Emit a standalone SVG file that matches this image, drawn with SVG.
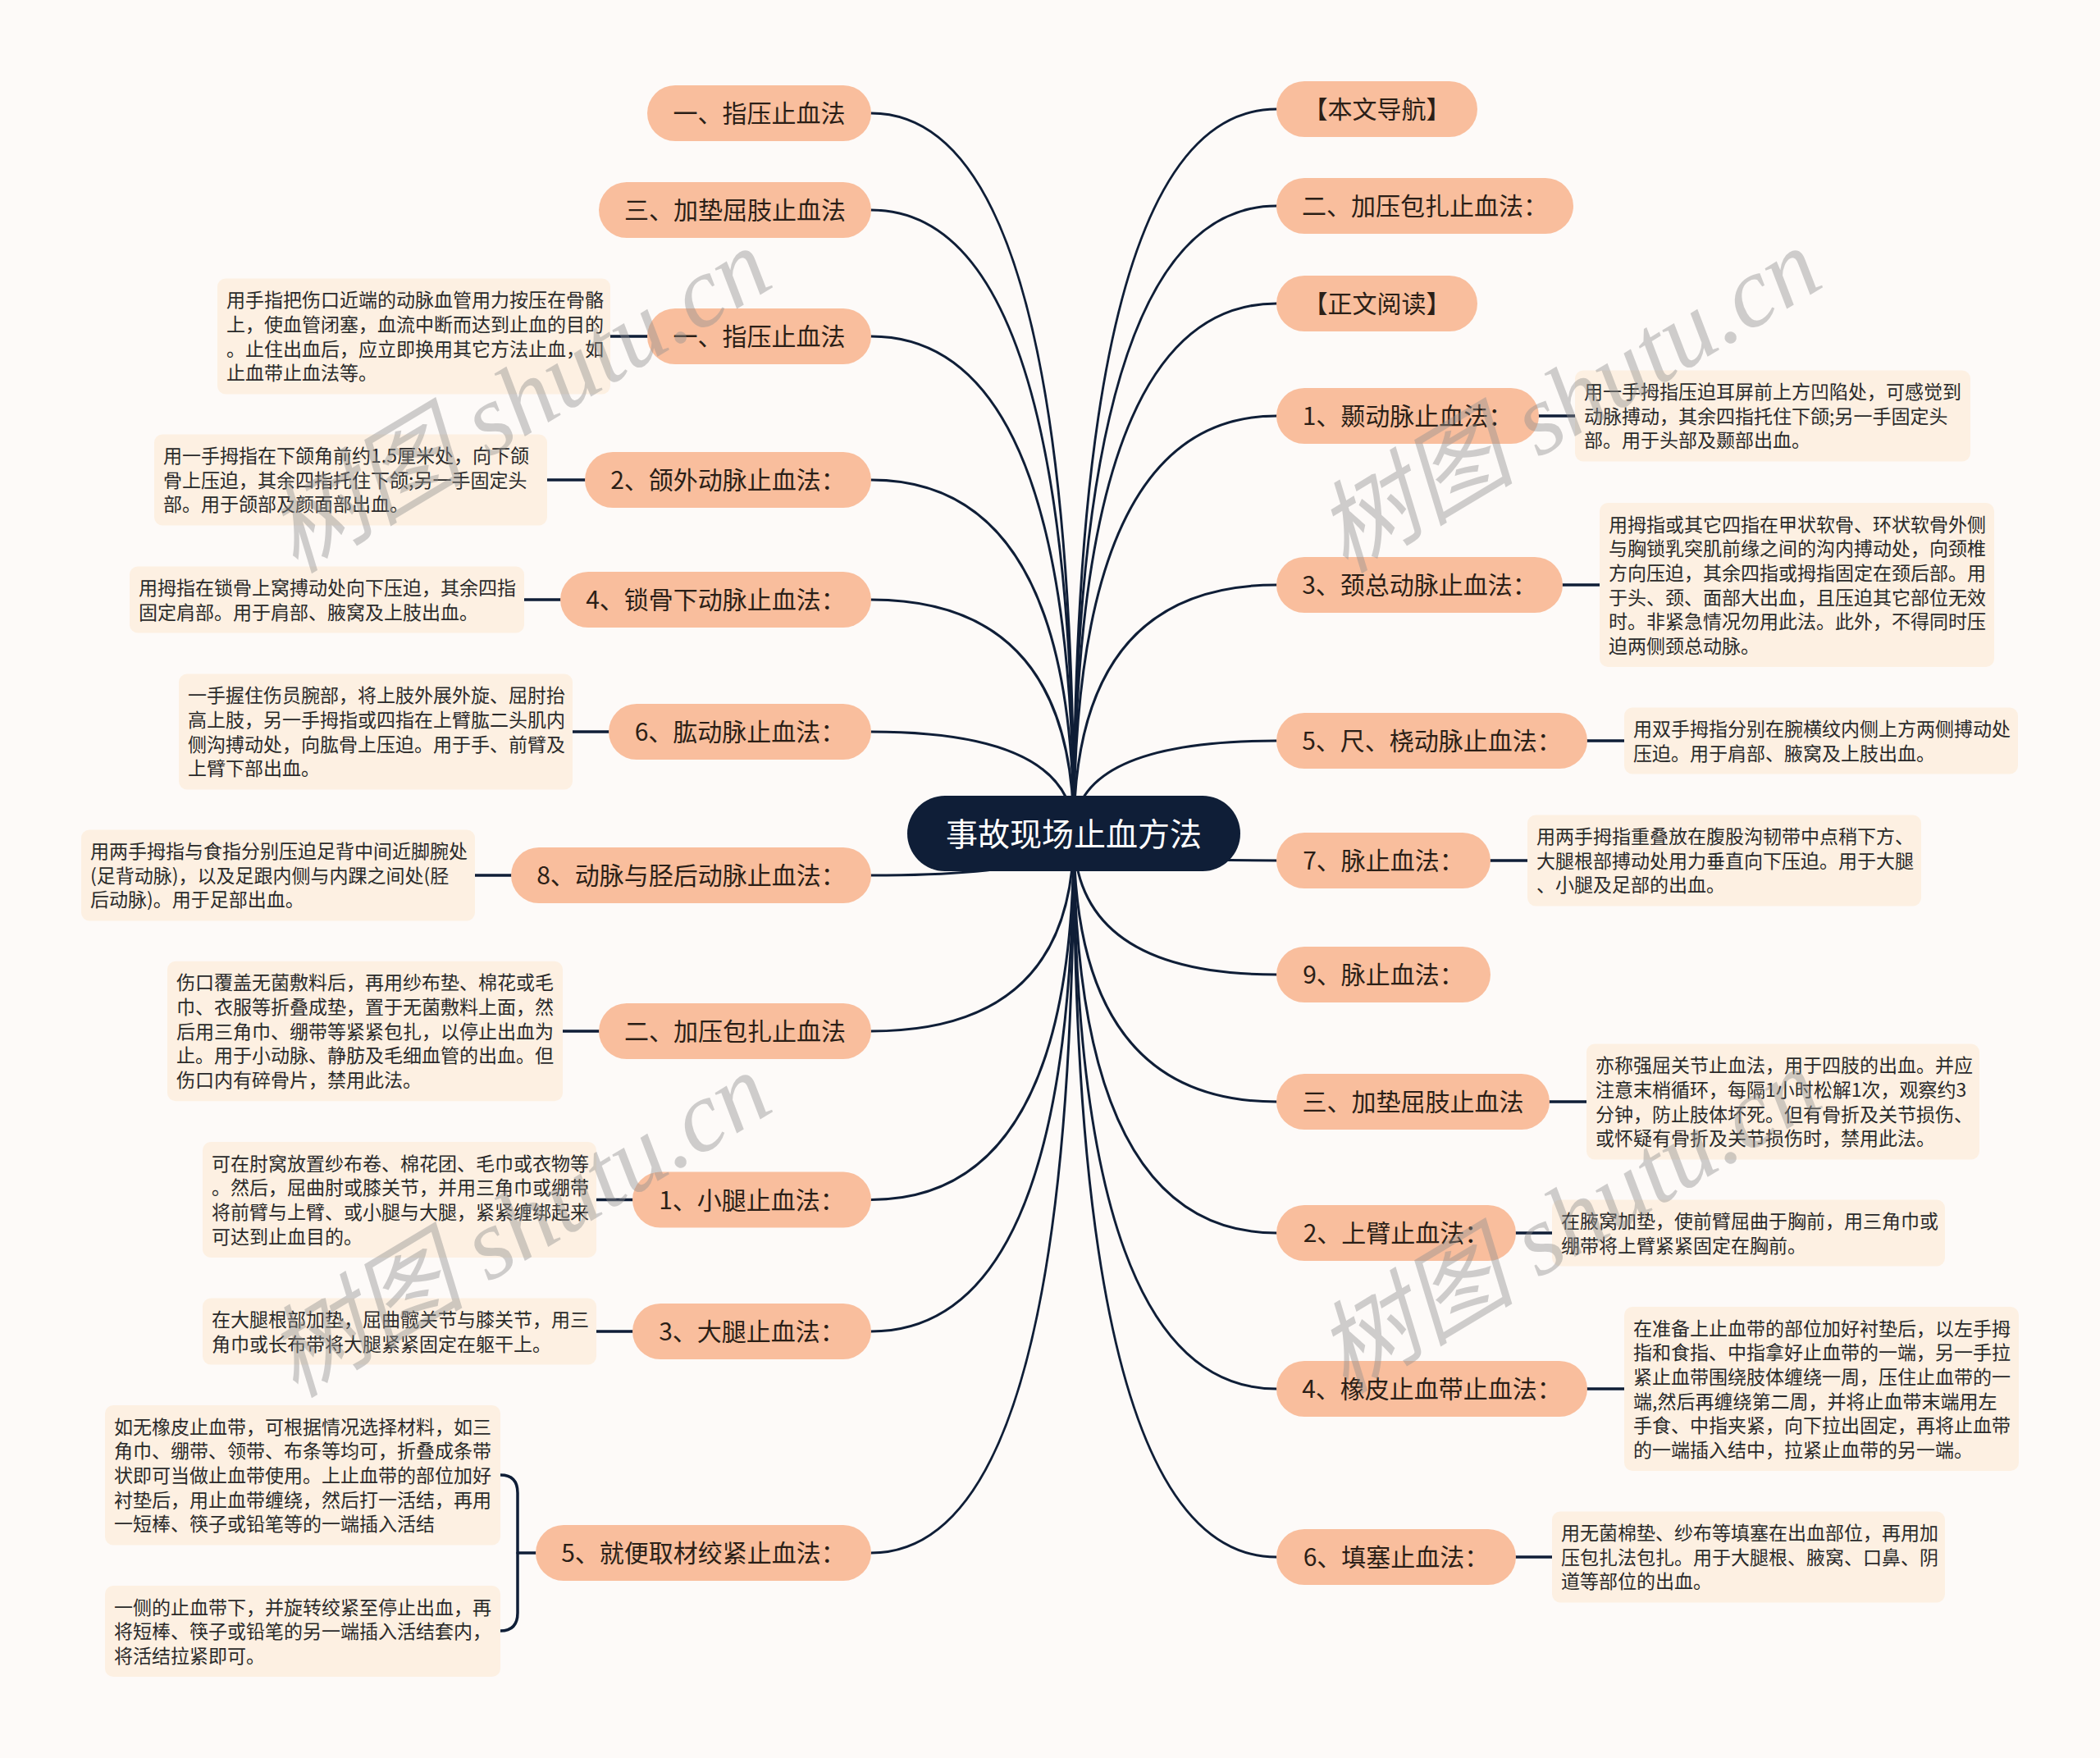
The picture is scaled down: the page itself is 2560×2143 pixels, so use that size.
<svg xmlns="http://www.w3.org/2000/svg" width="2560" height="2143" viewBox="0 0 2560 2143">
<style>
.bg{fill:#FDFAF8}
.c path{fill:none;stroke:#0F1E37;stroke-width:3;stroke-linecap:round}
.c .s{stroke-width:3.5}
.n rect{fill:#F9BE9D}
.n text{font-family:"Noto Sans CJK SC","Noto Sans",sans-serif;font-size:30px;fill:#2b1f17;text-anchor:middle}
.b rect{fill:#FDF0E2}
.b text{font-family:"Noto Sans CJK SC","Noto Sans",sans-serif;font-size:23px;fill:#2a2a2a}
.root rect{fill:#0F1E37}
.root text{font-family:"Noto Sans CJK SC","Noto Sans",sans-serif;font-size:39px;fill:#ffffff;text-anchor:middle}
.wm text{font-family:"Liberation Serif","Noto Sans CJK SC",serif;font-style:italic;font-size:122px;fill:#8f8f8f;opacity:.42}
</style>
<rect class="bg" x="0" y="0" width="2560" height="2143"/>

<g id="connectors" class="c">
<path d="M1309 1016 Q1309 138 1062 138"/>
<path d="M1309 1016 Q1309 256 1062 256"/>
<path d="M1309 1016 Q1309 410 1062 410"/>
<path d="M1309 1016 Q1309 585 1062 585"/>
<path d="M1309 1016 Q1309 731 1062 731"/>
<path d="M1309 1016 Q1309 892 1062 892"/>
<path d="M1309 1016 Q1309 1067 1062 1067"/>
<path d="M1309 1016 Q1309 1257 1062 1257"/>
<path d="M1309 1016 Q1309 1462.5 1062 1462.5"/>
<path d="M1309 1016 Q1309 1623 1062 1623"/>
<path d="M1309 1016 Q1309 1893 1062 1893"/>
<path d="M1309 1016 Q1309 133 1556 133"/>
<path d="M1309 1016 Q1309 251 1556 251"/>
<path d="M1309 1016 Q1309 370 1556 370"/>
<path d="M1309 1016 Q1309 507 1556 507"/>
<path d="M1309 1016 Q1309 713 1556 713"/>
<path d="M1309 1016 Q1309 903 1556 903"/>
<path d="M1309 1016 Q1309 1049 1556 1049"/>
<path d="M1309 1016 Q1309 1188 1556 1188"/>
<path d="M1309 1016 Q1309 1343 1556 1343"/>
<path d="M1309 1016 Q1309 1503 1556 1503"/>
<path d="M1309 1016 Q1309 1693 1556 1693"/>
<path d="M1309 1016 Q1309 1898 1556 1898"/>
<path class="s" d="M789 410 L744 410"/>
<path class="s" d="M713 585 L667 585"/>
<path class="s" d="M683 731 L639 731"/>
<path class="s" d="M742 892 L698 892"/>
<path class="s" d="M623 1067 L579 1067"/>
<path class="s" d="M730 1257 L686 1257"/>
<path class="s" d="M771 1462.5 L727 1462.5"/>
<path class="s" d="M771 1623 L727 1623"/>
<path class="s" d="M653 1893 L631 1893"/>
<path class="s" d="M610 1798 Q631 1798 631 1820 L631 1966 Q631 1988 610 1988"/>
<path class="s" d="M1876 507 L1920 507"/>
<path class="s" d="M1905 713 L1950 713"/>
<path class="s" d="M1935 903 L1980 903"/>
<path class="s" d="M1817 1049 L1862 1049"/>
<path class="s" d="M1889 1343 L1934 1343"/>
<path class="s" d="M1848 1503 L1892 1503"/>
<path class="s" d="M1935 1693 L1980 1693"/>
<path class="s" d="M1848 1898 L1892 1898"/>
</g>

<g id="root" class="root">
<rect x="1106" y="970" width="406" height="92" rx="46"/>
<text x="1309" y="1031">事故现场止血方法</text>
</g>

<g id="L1" class="n"><rect x="789" y="104" width="273" height="68" rx="34"/><text x="925.5" y="149.4">一、指压止血法</text></g>
<g id="L2" class="n"><rect x="730" y="222" width="332" height="68" rx="34"/><text x="896" y="267.4">三、加垫屈肢止血法</text></g>
<g id="L3" class="n"><rect x="789" y="376" width="273" height="68" rx="34"/><text x="925.5" y="421.4">一、指压止血法</text></g>
<g id="L4" class="n"><rect x="713" y="551" width="349" height="68" rx="34"/><text x="887.5" y="596.4">2、颌外动脉止血法：</text></g>
<g id="L5" class="n"><rect x="683" y="697" width="379" height="68" rx="34"/><text x="872.5" y="742.4">4、锁骨下动脉止血法：</text></g>
<g id="L6" class="n"><rect x="742" y="858" width="320" height="68" rx="34"/><text x="902" y="903.4">6、肱动脉止血法：</text></g>
<g id="L7" class="n"><rect x="623" y="1033" width="439" height="68" rx="34"/><text x="842.5" y="1078.4">8、动脉与胫后动脉止血法：</text></g>
<g id="L8" class="n"><rect x="730" y="1223" width="332" height="68" rx="34"/><text x="896" y="1268.4">二、加压包扎止血法</text></g>
<g id="L9" class="n"><rect x="771" y="1428.5" width="291" height="68" rx="34"/><text x="916.5" y="1473.9">1、小腿止血法：</text></g>
<g id="L10" class="n"><rect x="771" y="1589" width="291" height="68" rx="34"/><text x="916.5" y="1634.4">3、大腿止血法：</text></g>
<g id="L11" class="n"><rect x="653" y="1859" width="409" height="68" rx="34"/><text x="857.5" y="1904.4">5、就便取材绞紧止血法：</text></g>

<g id="R1" class="n"><rect x="1556" y="99" width="245" height="68" rx="34"/><text x="1678.5" y="144.4">【本文导航】</text></g>
<g id="R2" class="n"><rect x="1556" y="217" width="362" height="68" rx="34"/><text x="1737" y="262.4">二、加压包扎止血法：</text></g>
<g id="R3" class="n"><rect x="1556" y="336" width="245" height="68" rx="34"/><text x="1678.5" y="381.4">【正文阅读】</text></g>
<g id="R4" class="n"><rect x="1556" y="473" width="320" height="68" rx="34"/><text x="1716" y="518.4">1、颞动脉止血法：</text></g>
<g id="R5" class="n"><rect x="1556" y="679" width="349" height="68" rx="34"/><text x="1730.5" y="724.4">3、颈总动脉止血法：</text></g>
<g id="R6" class="n"><rect x="1556" y="869" width="379" height="68" rx="34"/><text x="1745.5" y="914.4">5、尺、桡动脉止血法：</text></g>
<g id="R7" class="n"><rect x="1556" y="1015" width="261" height="68" rx="34"/><text x="1686.5" y="1060.4">7、脉止血法：</text></g>
<g id="R8" class="n"><rect x="1556" y="1154" width="261" height="68" rx="34"/><text x="1686.5" y="1199.4">9、脉止血法：</text></g>
<g id="R9" class="n"><rect x="1556" y="1309" width="333" height="68" rx="34"/><text x="1722.5" y="1354.4">三、加垫屈肢止血法</text></g>
<g id="R10" class="n"><rect x="1556" y="1469" width="292" height="68" rx="34"/><text x="1702" y="1514.4">2、上臂止血法：</text></g>
<g id="R11" class="n"><rect x="1556" y="1659" width="379" height="68" rx="34"/><text x="1745.5" y="1704.4">4、橡皮止血带止血法：</text></g>
<g id="R12" class="n"><rect x="1556" y="1864" width="292" height="68" rx="34"/><text x="1702" y="1909.4">6、填塞止血法：</text></g>

<g id="bL3" class="b"><rect x="265" y="339.5" width="479" height="141" rx="10"/>
<text x="276" y="374.2">用手指把伤口近端的动脉血管用力按压在骨骼</text>
<text x="276" y="403.9">上，使血管闭塞，血流中断而达到止血的目的</text>
<text x="276" y="433.6">。止住出血后，应立即换用其它方法止血，如</text>
<text x="276" y="463.3">止血带止血法等。</text></g>

<g id="bL4" class="b"><rect x="188" y="529.5" width="479" height="111" rx="10"/>
<text x="199" y="564">用一手拇指在下颌角前约1.5厘米处，向下颌</text>
<text x="199" y="593.7">骨上压迫，其余四指托住下颌;另一手固定头</text>
<text x="199" y="623.4">部。用于颌部及颜面部出血。</text></g>

<g id="bL5" class="b"><rect x="158" y="690.5" width="481" height="81" rx="10"/>
<text x="169" y="724.9">用拇指在锁骨上窝搏动处向下压迫，其余四指</text>
<text x="169" y="754.6">固定肩部。用于肩部、腋窝及上肢出血。</text></g>

<g id="bL6" class="b"><rect x="218" y="821.5" width="480" height="141" rx="10"/>
<text x="229" y="856.2">一手握住伤员腕部，将上肢外展外旋、屈肘抬</text>
<text x="229" y="885.9">高上肢，另一手拇指或四指在上臂肱二头肌内</text>
<text x="229" y="915.6">侧沟搏动处，向肱骨上压迫。用于手、前臂及</text>
<text x="229" y="945.3">上臂下部出血。</text></g>

<g id="bL7" class="b"><rect x="99" y="1011.5" width="480" height="111" rx="10"/>
<text x="110" y="1046">用两手拇指与食指分别压迫足背中间近脚腕处</text>
<text x="110" y="1075.7">(足背动脉)，以及足跟内侧与内踝之间处(胫</text>
<text x="110" y="1105.4">后动脉)。用于足部出血。</text></g>

<g id="bL8" class="b"><rect x="204" y="1171.75" width="482" height="170.5" rx="10"/>
<text x="215" y="1206.3">伤口覆盖无菌敷料后，再用纱布垫、棉花或毛</text>
<text x="215" y="1236">巾、衣服等折叠成垫，置于无菌敷料上面，然</text>
<text x="215" y="1265.7">后用三角巾、绷带等紧紧包扎，以停止出血为</text>
<text x="215" y="1295.4">止。用于小动脉、静肪及毛细血管的出血。但</text>
<text x="215" y="1325.1">伤口内有碎骨片，禁用此法。</text></g>

<g id="bL9" class="b"><rect x="247" y="1392" width="480" height="141" rx="10"/>
<text x="258" y="1426.7">可在肘窝放置纱布卷、棉花团、毛巾或衣物等</text>
<text x="258" y="1456.4">。然后，屈曲肘或膝关节，并用三角巾或绷带</text>
<text x="258" y="1486.1">将前臂与上臂、或小腿与大腿，紧紧缠绑起来</text>
<text x="258" y="1515.8">可达到止血目的。</text></g>

<g id="bL10" class="b"><rect x="247" y="1582.5" width="480" height="81" rx="10"/>
<text x="258" y="1616.9">在大腿根部加垫，屈曲髋关节与膝关节，用三</text>
<text x="258" y="1646.6">角巾或长布带将大腿紧紧固定在躯干上。</text></g>

<g id="bL11a" class="b"><rect x="128" y="1713" width="482" height="170.5" rx="10"/>
<text x="139" y="1747.6">如无橡皮止血带，可根据情况选择材料，如三</text>
<text x="139" y="1777.3">角巾、绷带、领带、布条等均可，折叠成条带</text>
<text x="139" y="1807">状即可当做止血带使用。上止血带的部位加好</text>
<text x="139" y="1836.7">衬垫后，用止血带缠绕，然后打一活结，再用</text>
<text x="139" y="1866.4">一短棒、筷子或铅笔等的一端插入活结</text></g>

<g id="bL11b" class="b"><rect x="128" y="1933" width="482" height="111" rx="10"/>
<text x="139" y="1967.5">一侧的止血带下，并旋转绞紧至停止出血，再</text>
<text x="139" y="1997.2">将短棒、筷子或铅笔的另一端插入活结套内，</text>
<text x="139" y="2026.9">将活结拉紧即可。</text></g>

<g id="bR4" class="b"><rect x="1920" y="451.5" width="482" height="111" rx="10"/>
<text x="1931" y="486">用一手拇指压迫耳屏前上方凹陷处，可感觉到</text>
<text x="1931" y="515.7">动脉搏动，其余四指托住下颌;另一手固定头</text>
<text x="1931" y="545.4">部。用于头部及颞部出血。</text></g>

<g id="bR5" class="b"><rect x="1950" y="613" width="481" height="200" rx="10"/>
<text x="1961" y="647.5">用拇指或其它四指在甲状软骨、环状软骨外侧</text>
<text x="1961" y="677.2">与胸锁乳突肌前缘之间的沟内搏动处，向颈椎</text>
<text x="1961" y="706.9">方向压迫，其余四指或拇指固定在颈后部。用</text>
<text x="1961" y="736.6">于头、颈、面部大出血，且压迫其它部位无效</text>
<text x="1961" y="766.3">时。非紧急情况勿用此法。此外，不得同时压</text>
<text x="1961" y="796">迫两侧颈总动脉。</text></g>

<g id="bR6" class="b"><rect x="1980" y="862.5" width="480" height="81" rx="10"/>
<text x="1991" y="896.9">用双手拇指分别在腕横纹内侧上方两侧搏动处</text>
<text x="1991" y="926.6">压迫。用于肩部、腋窝及上肢出血。</text></g>

<g id="bR7" class="b"><rect x="1862" y="993.5" width="480" height="111" rx="10"/>
<text x="1873" y="1028">用两手拇指重叠放在腹股沟韧带中点稍下方、</text>
<text x="1873" y="1057.7">大腿根部搏动处用力垂直向下压迫。用于大腿</text>
<text x="1873" y="1087.4">、小腿及足部的出血。</text></g>

<g id="bR9" class="b"><rect x="1934" y="1272.5" width="479" height="141" rx="10"/>
<text x="1945" y="1307.2">亦称强屈关节止血法，用于四肢的出血。并应</text>
<text x="1945" y="1336.9">注意末梢循环，每隔1小时松解1次，观察约3</text>
<text x="1945" y="1366.6">分钟，防止肢体坏死。但有骨折及关节损伤、</text>
<text x="1945" y="1396.3">或怀疑有骨折及关节损伤时，禁用此法。</text></g>

<g id="bR10" class="b"><rect x="1892" y="1462.5" width="479" height="81" rx="10"/>
<text x="1903" y="1496.9">在腋窝加垫，使前臂屈曲于胸前，用三角巾或</text>
<text x="1903" y="1526.6">绷带将上臂紧紧固定在胸前。</text></g>

<g id="bR11" class="b"><rect x="1980" y="1593" width="481" height="200" rx="10"/>
<text x="1991" y="1627.5">在准备上止血带的部位加好衬垫后，以左手拇</text>
<text x="1991" y="1657.2">指和食指、中指拿好止血带的一端，另一手拉</text>
<text x="1991" y="1686.9">紧止血带围绕肢体缠绕一周，压住止血带的一</text>
<text x="1991" y="1716.6">端,然后再缠绕第二周，并将止血带末端用左</text>
<text x="1991" y="1746.3">手食、中指夹紧，向下拉出固定，再将止血带</text>
<text x="1991" y="1776">的一端插入结中，拉紧止血带的另一端。</text></g>

<g id="bR12" class="b"><rect x="1892" y="1842.5" width="479" height="111" rx="10"/>
<text x="1903" y="1877">用无菌棉垫、纱布等填塞在出血部位，再用加</text>
<text x="1903" y="1906.7">压包扎法包扎。用于大腿根、腋窝、口鼻、阴</text>
<text x="1903" y="1936.4">道等部位的出血。</text></g>

<g id="watermarks" class="wm">
<text x="360" y="700" transform="rotate(-31 360 700)">树图 shutu.cn</text>
<text x="1640" y="700" transform="rotate(-31 1640 700)">树图 shutu.cn</text>
<text x="360" y="1705" transform="rotate(-31 360 1705)">树图 shutu.cn</text>
<text x="1640" y="1700" transform="rotate(-31 1640 1700)">树图 shutu.cn</text>
</g>
</svg>
